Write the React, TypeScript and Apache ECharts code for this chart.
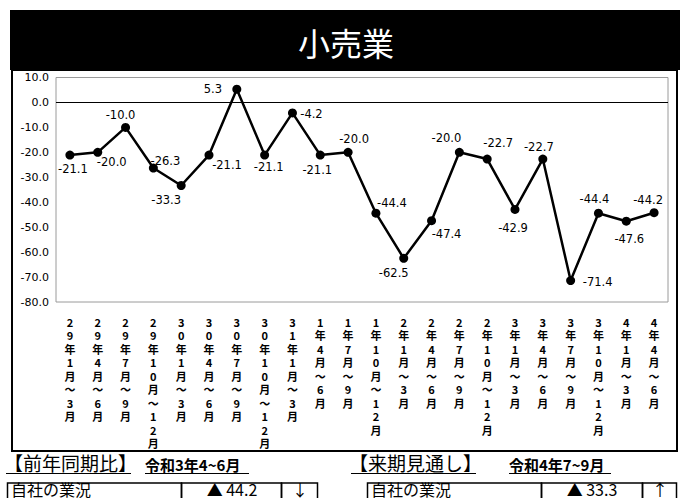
import React, { useEffect, useRef } from "react";
import * as echarts from "echarts";

const categories = [
  "29年1月〜3月", "29年4月〜6月", "29年7月〜9月", "29年10月〜12月",
  "30年1月〜3月", "30年4月〜6月", "30年7月〜9月", "30年10月〜12月",
  "31年1月〜3月", "1年4月〜6月", "1年7月〜9月", "1年10月〜12月",
  "2年1月〜3月", "2年4月〜6月", "2年7月〜9月", "2年10月〜12月",
  "3年1月〜3月", "3年4月〜6月", "3年7月〜9月", "3年10月〜12月",
  "4年1月〜3月", "4年4月〜6月",
];

const values = [
  -21.1, -20.0, -10.0, -26.3, -33.3, -21.1, 5.3, -21.1, -4.2, -21.1, -20.0,
  -44.4, -62.5, -47.4, -20.0, -22.7, -42.9, -22.7, -71.4, -44.4, -47.6, -44.2,
];

// label offsets (style only), relative to each point
const labelOffsets: [number, number][] = [
  [3, 14], [14, 10], [-5, -12], [12, -7], [-15, 14], [18, 10], [-24, 0],
  [4, 12], [19, 1], [-3, 15], [6, -13], [16, -10], [-10, 15], [15, 13],
  [-13, -14], [11, -16], [-2, 19], [-4, -12], [27, 1], [-4, -14], [3, 18],
  [-6, -13],
];

const yMin = -80;
const yMax = 10;
const yInterval = 10;

const titleText = "小売業";
const leftHeader = "【前年同期比】";
const leftPeriod = "令和3年4~6月";
const rightHeader = "【来期見通し】";
const rightPeriod = "令和4年7~9月";
const rowLabel = "自社の業況";
const leftValue = "▲ 44.2";
const leftArrow = "↓";
const rightValue = "▲ 33.3";
const rightArrow = "↑";

const FONT = "'Noto Sans CJK JP', 'Noto Sans', sans-serif";
const NUMFONT = "'DejaVu Sans', 'Noto Sans CJK JP', sans-serif";

function txt(text: string, x: number, y: number, size: number, opts: any = {}) {
  return {
    type: "text",
    style: {
      text,
      x,
      y,
      fill: opts.fill || "#000",
      font: `${opts.weight || "normal"} ${size}px ${FONT}`,
      textAlign: opts.align || "left",
      align: opts.align || "left",
      textVerticalAlign: "middle",
      verticalAlign: "middle",
    },
  };
}

function box(x: number, y: number, w: number, h: number, lw = 1.5) {
  return {
    type: "rect",
    shape: { x, y, width: w, height: h },
    style: { fill: "none", stroke: "#000", lineWidth: lw },
  };
}

function hline(x1: number, x2: number, y: number, lw = 1) {
  return {
    type: "line",
    shape: { x1, y1: y, x2, y2: y },
    style: { stroke: "#000", lineWidth: lw },
  };
}

export default function App() {
  const ref = useRef<HTMLDivElement>(null);

  useEffect(() => {
    document.body.style.margin = "0";
    if (!ref.current) return;
    const chart = echarts.init(ref.current, undefined, { renderer: "svg" });

    const seriesData = values.map((v, i) => ({
      value: v,
      label: { offset: labelOffsets[i] },
    }));

    chart.setOption({
      animation: false,
      backgroundColor: "#fff",
      grid: {
        left: 56,
        right: 15,
        top: 77.5,
        bottom: 196,
        show: true,
        borderColor: "#9a9a9a",
        borderWidth: 1,
        backgroundColor: "transparent",
      },
      xAxis: {
        type: "category",
        data: categories,
        boundaryGap: true,
        axisLine: { show: false },
        axisTick: { show: false },
        splitLine: { show: false },
        axisLabel: {
          interval: 0,
          margin: 13,
          fontSize: 11,
          fontWeight: "bold",
          fontFamily: FONT,
          color: "#000",
          lineHeight: 13.5,
          verticalAlign: "top",
          formatter: (v: string) => v.split("").join("\n"),
        },
      },
      yAxis: {
        type: "value",
        min: yMin,
        max: yMax,
        interval: yInterval,
        axisLine: { show: false },
        axisTick: { show: false },
        splitLine: { show: false },
        axisLabel: {
          margin: 7,
          fontSize: 11,
          fontFamily: NUMFONT,
          color: "#000",
          formatter: (v: number) => v.toFixed(1),
        },
      },
      series: [
        {
          type: "line",
          data: seriesData,
          symbol: "circle",
          symbolSize: 9,
          itemStyle: { color: "#000" },
          lineStyle: { color: "#000", width: 2.5 },
          label: {
            show: true,
            position: "inside",
            fontSize: 11.5,
            fontFamily: NUMFONT,
            color: "#000",
            formatter: (p: any) => Number(p.value).toFixed(1),
          },
          markLine: {
            silent: true,
            symbol: "none",
            label: { show: false },
            lineStyle: { color: "#000", width: 1, type: "solid" },
            data: [{ yAxis: 0 }],
          },
          z: 3,
        },
      ],
      graphic: [
        {
          type: "rect",
          shape: { x: 10, y: 10, width: 670, height: 60 },
          style: { fill: "#000" },
        },
        txt(titleText, 346, 42, 32, { fill: "#fff", align: "center" }),
        box(12, 70, 665, 381, 2),
        txt(leftHeader, 4, 462, 19),
        txt(leftPeriod, 145, 464, 15, { weight: "bold" }),
        hline(6, 131, 473.5),
        hline(145, 249, 473.5),
        txt(rightHeader, 349, 462, 19),
        txt(rightPeriod, 509, 464, 15, { weight: "bold" }),
        hline(351, 476, 473.5),
        hline(509, 611, 473.5),
        box(7.5, 483, 174, 22),
        box(181.5, 483, 100, 22),
        box(281.5, 483, 36, 22),
        box(367.5, 483, 174, 22),
        box(541.5, 483, 101, 22),
        box(642.5, 483, 34, 22),
        txt(rowLabel, 11, 489, 16),
        txt(leftValue, 232, 489, 16, { align: "center" }),
        txt(leftArrow, 300, 489, 16, { align: "center" }),
        txt(rowLabel, 371, 489, 16),
        txt(rightValue, 592, 489, 16, { align: "center" }),
        txt(rightArrow, 660, 489, 16, { align: "center" }),
      ],
    });

    return () => chart.dispose();
  }, []);

  return <div ref={ref} style={{ width: 683, height: 498, overflow: "hidden" }} />;
}
